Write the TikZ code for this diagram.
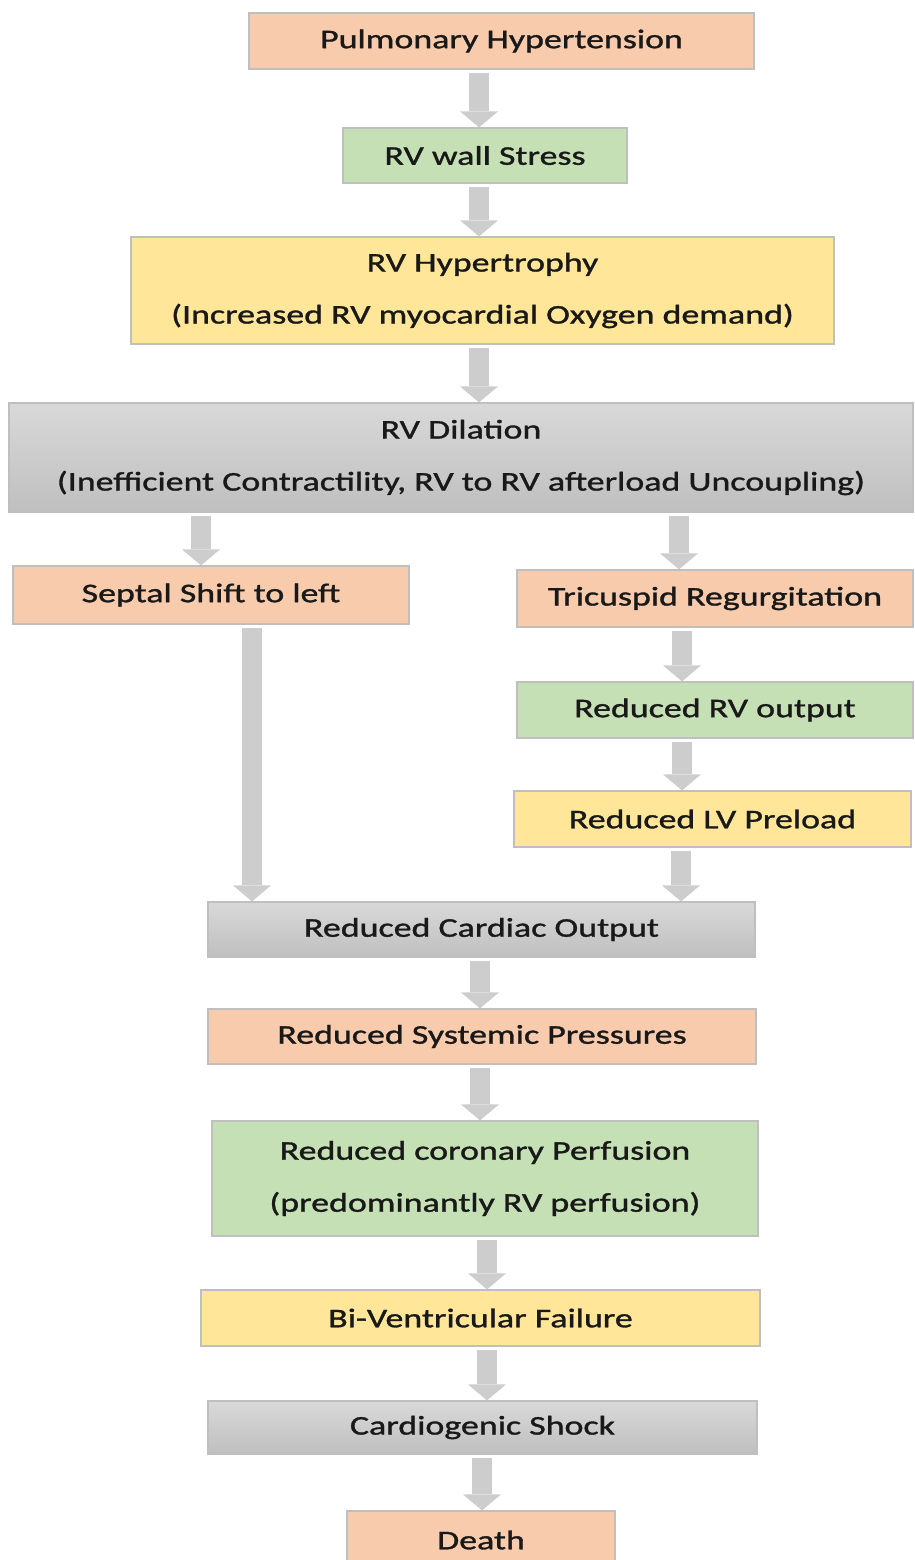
\documentclass[tikz,border=0pt]{standalone}
\usepackage{fontspec}
\setmainfont{Carlito}[FakeStretch=1.33, FakeBold=1.2]
\usetikzlibrary{arrows.meta}

\definecolor{peach}{HTML}{F8CBAD}
\definecolor{leaf}{HTML}{C5E0B4}
\definecolor{butter}{HTML}{FFE699}
\definecolor{edgegray}{HTML}{BFBFBF}
\definecolor{arrowgray}{HTML}{CDCDCD}

\tikzset{
  box/.style={rectangle, draw=edgegray, line width=1.2pt, inner sep=0pt,
    align=center, text=black!90, font=\fontsize{27}{52}\selectfont},
  pinkbox/.style={box, fill=peach},
  greenbox/.style={box, fill=leaf},
  yellowbox/.style={box, fill=butter},
  greybox/.style={box, top color=black!15, bottom color=black!25},
  flow/.style={line width=20pt, draw=arrowgray,
    -{Triangle[width=38pt, length=16pt, line width=0pt]}}
}

\begin{document}
\begin{tikzpicture}[x=1pt, y=-1pt]
        \useasboundingbox (0,0) rectangle (914,1560);

        % Top chain
        \node[pinkbox, minimum width=505pt, minimum height=56pt] (ph) at (501.5,41) {Pulmonary Hypertension};
        \node[greenbox, minimum width=284pt, minimum height=55pt] (rvw) at (485,155.5) {RV wall Stress};
        \node[yellowbox, minimum width=703pt, minimum height=107pt] (rvh) at (482.5,290.5)
            {RV Hypertrophy\\(Increased RV myocardial Oxygen demand)};
        \node[greybox, minimum width=904pt, minimum height=109pt] (dil) at (461,457.5)
            {RV Dilation\\(Inefficient Contractility, RV to RV afterload Uncoupling)};

        % Left and right branches
        \node[pinkbox, minimum width=396pt, minimum height=58pt] (sep) at (211,595) {Septal Shift to left};
        \node[pinkbox, minimum width=396pt, minimum height=57pt] (tr) at (715,598.5) {Tricuspid Regurgitation};
        \node[greenbox, minimum width=396pt, minimum height=56pt] (rvo) at (715,710) {Reduced RV output};
        \node[yellowbox, minimum width=397pt, minimum height=56pt] (lvp) at (712.5,819) {Reduced LV Preload};

        % Bottom chain
        \node[greybox, minimum width=547pt, minimum height=55pt] (co) at (481.5,929.5) {Reduced Cardiac Output};
        \node[pinkbox, minimum width=548pt, minimum height=55pt] (sp) at (482,1036.5) {Reduced Systemic Pressures};
        \node[greenbox, minimum width=546pt, minimum height=115pt] (cp) at (485,1178.5)
            {Reduced coronary Perfusion\\(predominantly RV perfusion)};
        \node[yellowbox, minimum width=559pt, minimum height=56pt] (bvf) at (480.5,1318) {Bi-Ventricular Failure};
        \node[greybox, minimum width=549pt, minimum height=53pt] (cs) at (482.5,1427.5) {Cardiogenic Shock};
        \node[pinkbox, minimum width=268pt, minimum height=58pt] (death) at (481,1540) {Death};

        % Arrows
        \draw[flow] ([xshift=-22.5pt, yshift=-3pt]ph.south) -- ([xshift=-22.5pt]ph.south |- rvw.north);
        \draw[flow] ([xshift=-6pt, yshift=-3pt]rvw.south) -- ([xshift=-6pt]rvw.south |- rvh.north);
        \draw[flow] ([xshift=-3.5pt, yshift=-3pt]rvh.south) -- ([xshift=-3.5pt]rvh.south |- dil.north);
        \draw[flow] ([xshift=-260pt, yshift=-3pt]dil.south) -- ([xshift=-260pt]dil.south |- sep.north);
        \draw[flow] ([xshift=218pt, yshift=-3pt]dil.south) -- ([xshift=218pt]dil.south |- tr.north);
        \draw[flow] ([xshift=-33pt, yshift=-3pt]tr.south) -- ([xshift=-33pt]tr.south |- rvo.north);
        \draw[flow] ([xshift=-33pt, yshift=-3pt]rvo.south) -- ([xshift=-33pt]rvo.south |- lvp.north);
        \draw[flow] ([xshift=-31.5pt, yshift=-3pt]lvp.south) -- ([xshift=-31.5pt]lvp.south |- co.north);
        \draw[flow] ([xshift=41pt, yshift=-3pt]sep.south) -- ([xshift=41pt]sep.south |- co.north);
        \draw[flow] ([xshift=-1.5pt, yshift=-3pt]co.south) -- ([xshift=-1.5pt]co.south |- sp.north);
        \draw[flow] ([xshift=-2pt, yshift=-3pt]sp.south) -- ([xshift=-2pt]sp.south |- cp.north);
        \draw[flow] ([xshift=2pt, yshift=-3pt]cp.south) -- ([xshift=2pt]cp.south |- bvf.north);
        \draw[flow] ([xshift=6.5pt, yshift=-3pt]bvf.south) -- ([xshift=6.5pt]bvf.south |- cs.north);
        \draw[flow] ([xshift=-0.5pt, yshift=-3pt]cs.south) -- ([xshift=-0.5pt]cs.south |- death.north);
    \end{tikzpicture}
\end{document}
